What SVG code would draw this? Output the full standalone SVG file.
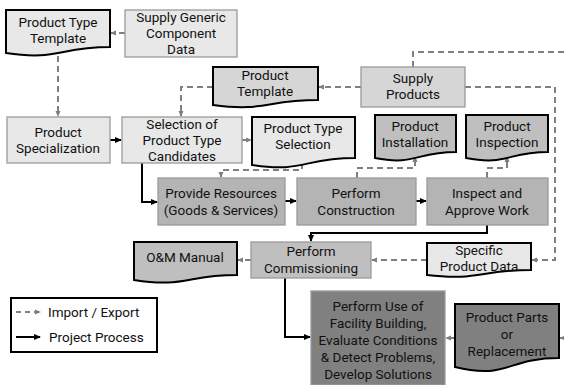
<svg xmlns="http://www.w3.org/2000/svg" width="564" height="385" viewBox="0 0 564 385">
<defs>
<marker id="ag" markerWidth="6" markerHeight="6" refX="5" refY="3" orient="auto" markerUnits="userSpaceOnUse"><path d="M0,0.5 L6,3 L0,5.5 z" fill="#7f7f7f"/></marker>
<marker id="ab" markerWidth="7" markerHeight="7" refX="6" refY="3.5" orient="auto" markerUnits="userSpaceOnUse"><path d="M0,0.5 L7,3.5 L0,6.5 z" fill="#000"/></marker>
</defs>
<style>
text{font-family:Roboto,"Open Sans","Liberation Sans",sans-serif;font-size:13.5px;fill:#111;text-anchor:middle}
.box{stroke:#9a9a9a;stroke-width:1.3}
.doc{stroke:#000;stroke-width:2}
.l1{fill:#e8e8e8}.l2{fill:#d6d6d6}.m1{fill:#b4b4b4}.m2{fill:#bfbfbf}.d1{fill:#808080}
.dash{fill:none;stroke:#7f7f7f;stroke-width:2;stroke-dasharray:6,4;marker-end:url(#ag)}
.solid{fill:none;stroke:#000;stroke-width:2;marker-end:url(#ab)}
</style>
<rect width="564" height="385" fill="#fff"/>
<g id="connectors">
<path class="dash" d="M125,33 H111"/>
<path class="dash" d="M58,56 V116"/>
<path class="dash" d="M361,87 H319"/>
<path class="dash" d="M213,87 H181 V116"/>
<path class="dash" d="M413,67 V52 H564" style="marker-end:none"/>
<path class="dash" d="M465,87 H555 V260 H532"/>
<path class="solid" d="M110,140 H121"/>
<path class="dash" d="M242,140 H251"/>
<path class="dash" d="M302,163 V170 H221 V177"/>
<path class="solid" d="M142,163 V202 H157"/>
<path class="solid" d="M285,201 H296"/>
<path class="solid" d="M416,201 H426"/>
<path class="dash" d="M357,178 V168 H415 V157"/>
<path class="dash" d="M487,178 V168 H507 V157"/>
<path class="solid" d="M487,225 V233 H311 V241"/>
<path class="dash" d="M251,260 H238"/>
<path class="dash" d="M427,260 H372"/>
<path class="solid" d="M285,278 V337 H310"/>
<path class="dash" d="M455,338 H446"/>
<path class="dash" d="M564,338 H560" style="stroke-dasharray:none"/>
</g>
<g id="product-type-template"><path class="doc l1" d="M6,10 H110 V47 C58,47 58,61 6,53 Z"/><text x="58" y="27">Product Type</text><text x="58" y="43">Template</text></g>
<g id="supply-generic"><rect class="box l1" x="125" y="10" width="112" height="47"/><text x="181" y="22">Supply Generic</text><text x="181" y="38">Component</text><text x="181" y="54">Data</text></g>
<g id="product-template"><path class="doc l2" d="M213,67 H318 V100 C265.5,100 265.5,112 213,105 Z"/><text x="265" y="80">Product</text><text x="265" y="96">Template</text></g>
<g id="supply-products"><rect class="box l2" x="361" y="67" width="104" height="40"/><text x="413" y="83">Supply</text><text x="413" y="99">Products</text></g>
<g id="product-specialization"><rect class="box l1" x="7" y="117" width="103" height="46"/><text x="58" y="137">Product</text><text x="58" y="153">Specialization</text></g>
<g id="selection"><rect class="box l1" x="122" y="117" width="120" height="46"/><text x="182" y="129">Selection of</text><text x="182" y="145">Product Type</text><text x="182" y="161">Candidates</text></g>
<g id="product-type-selection"><path class="doc l1" d="M252,117 H355 V158 C303.5,158 303.5,173 252,165 Z"/><text x="303" y="133">Product Type</text><text x="303" y="149">Selection</text></g>
<g id="product-installation"><path class="doc m2" d="M375,115 H456 V152 C415.5,152 415.5,166 375,158 Z"/><text x="415" y="131">Product</text><text x="415" y="147">Installation</text></g>
<g id="product-inspection"><path class="doc m2" d="M466,115 H548 V152 C507,152 507,166 466,158 Z"/><text x="507" y="131">Product</text><text x="507" y="147">Inspection</text></g>
<g id="provide-resources"><rect class="box m1" x="158" y="178" width="127" height="47"/><text x="221" y="198">Provide Resources</text><text x="221" y="215">(Goods &amp; Services)</text></g>
<g id="perform-construction"><rect class="box m1" x="297" y="178" width="119" height="47"/><text x="356" y="198">Perform</text><text x="356" y="215">Construction</text></g>
<g id="inspect-approve"><rect class="box m1" x="427" y="178" width="121" height="47"/><text x="487" y="198">Inspect and</text><text x="487" y="215">Approve Work</text></g>
<g id="om-manual"><path class="doc m2" d="M134,242 H237 V275 C185.5,275 185.5,288 134,280 Z"/><text x="185" y="262">O&amp;M Manual</text></g>
<g id="perform-commissioning"><rect class="box m2" x="251" y="242" width="120" height="36"/><text x="311" y="256">Perform</text><text x="311" y="273">Commissioning</text></g>
<g id="specific-product-data"><path class="doc l1" d="M427,243 H531 V270 C479,270 479,281 427,275 Z"/><text x="479" y="255">Specific</text><text x="479" y="271">Product Data</text></g>
<g id="perform-use"><rect class="box d1" x="311" y="291" width="134" height="94"/><text x="378" y="311">Perform Use of</text><text x="378" y="328">Facility Building,</text><text x="378" y="345">Evaluate Conditions</text><text x="378" y="362">&amp; Detect Problems,</text><text x="378" y="379">Develop Solutions</text></g>
<g id="product-parts"><path class="doc d1" d="M455,304 H559 V358 C507,358 507,380 455,367 Z"/><text x="507" y="322">Product Parts</text><text x="507" y="339">or</text><text x="507" y="356">Replacement</text></g>
<g id="legend"><rect x="11" y="298" width="146" height="54" fill="#fff" stroke="#000" stroke-width="2"/>
<path class="dash" d="M16,312 H40" style="stroke-dasharray:5,4"/><text x="48" y="317" style="text-anchor:start">Import / Export</text>
<path class="solid" d="M16,337 H40"/><text x="49" y="342" style="text-anchor:start">Project Process</text></g>
</svg>
